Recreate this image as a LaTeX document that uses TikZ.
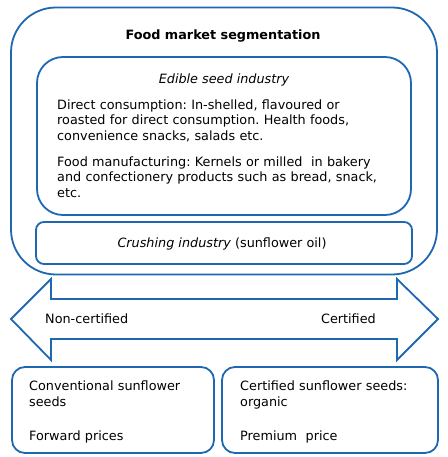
\documentclass[tikz,border=0pt]{standalone}
\usepackage{fontspec}
\setmainfont{DejaVu Sans}
\usepackage{tikz}
\usetikzlibrary{positioning}
\definecolor{segblue}{RGB}{30,104,178}
\frenchspacing

\begin{document}
\begin{tikzpicture}[x=1pt, y=-1pt, font=\fontsize{12.8}{15.5}\selectfont,
 segbox/.style={draw=segblue, line width=1.8pt, fill=white, inner sep=0pt},
 body/.style={align=left, text width=#1, inner sep=0pt, anchor=base west},
 lbl/.style={inner sep=0pt}]
\useasboundingbox (0,0) rectangle (447,457);
% outer market box
\node[segbox, rounded corners=45pt, minimum width=426, minimum height=267] (market) at (224,141) {};
\node[lbl, anchor=base, font=\fontsize{12.8}{15.5}\selectfont\bfseries] (title) at (223,40) {Food market segmentation};
% edible seed industry
\node[segbox, rounded corners=26pt, minimum width=374, minimum height=158] (edible) at (224,136) {};
\node[lbl, anchor=base, font=\fontsize{12.8}{15.5}\selectfont\itshape] (ediblet) at (224,83.3) {Edible seed industry};
\node[body=345pt] (direct) at (57,109.3) {Direct consumption: In-shelled, flavoured or\\roasted for direct consumption. Health foods,\\convenience snacks, salads etc.};
\node[body=345pt] (manuf) at (57,166) {Food manufacturing: Kernels or milled\ \ in bakery\\and confectionery products such as bread, snack,\\etc.};
% crushing industry
\node[segbox, rounded corners=8pt, minimum width=376, minimum height=42] (crush) at (224,243) {};
\node[lbl, anchor=base] (crusht) at (222,247.3) {\textit{Crushing industry} (sunflower oil)};
% two way arrow
\coordinate (ltip) at (11,319);
\coordinate (rtip) at (438,319);
\draw[segblue, line width=1.8pt, line join=miter, fill=white]
 (ltip) -- (51,279) -- (51,299) -- (397,299) -- (397,279) -- (rtip)
 -- (397,360) -- (397,339) -- (51,339) -- (51,360) -- cycle;
\node[lbl, anchor=base west] (noncert) at (45,323.3) {Non-certified};
\node[lbl, anchor=base east] (cert) at (376,323.3) {Certified};
% seed types
\node[segbox, rounded corners=13pt, minimum width=202, minimum height=86] (conv) at (113,410) {};
\node[segbox, rounded corners=13pt, minimum width=216, minimum height=86] (organic) at (330,410) {};
\node[body=180pt] (convt) at (29,390.7) {Conventional sunflower\\seeds};
\node[body=180pt] (convp) at (29,440) {Forward prices};
\node[body=200pt] (organict) at (240,390.7) {Certified sunflower seeds:\\organic};
\node[body=200pt] (organicp) at (240,440) {Premium\ \ price};
\end{tikzpicture}
\end{document}
